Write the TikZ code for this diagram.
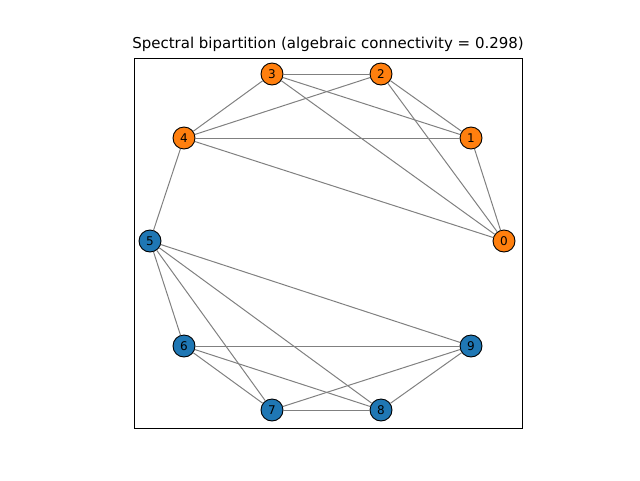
\documentclass[tikz,border=0pt]{standalone}
\usepackage{fontspec}
\setmainfont{DejaVu Sans}
\begin{document}
\begin{tikzpicture}[x=1pt,y=-1pt,
  nd/.style={circle,draw=black,line width=0.9pt,minimum size=22pt,inner sep=0pt,font=\fontsize{12}{12}\selectfont},
  org/.style={nd,fill={rgb,255:red,255;green,127;blue,14}},
  blu/.style={nd,fill={rgb,255:red,31;green,119;blue,180}},
  ed/.style={draw={rgb,255:red,128;green,128;blue,128},line width=1pt}]
\useasboundingbox (0,0) rectangle (640,480);
\draw[line width=0.8pt] (134,58) rectangle (522,428);
\node[font=\fontsize{15}{15}\selectfont] (t) at (328,44) {Spectral bipartition (algebraic connectivity = 0.298)};
\node[org] (n0) at (504,241) {0};
\node[org] (n1) at (471,138) {1};
\node[org] (n2) at (381,74) {2};
\node[org] (n3) at (272,74) {3};
\node[org] (n4) at (184,138) {4};
\node[blu] (n5) at (150,241) {5};
\node[blu] (n6) at (184,346) {6};
\node[blu] (n7) at (272,410) {7};
\node[blu] (n8) at (381,410) {8};
\node[blu] (n9) at (471,346) {9};
\begin{scope}[on background layer/.style={}]
\foreach \a/\b in {3/2,3/1,3/0,3/4,2/4,2/1,2/0,4/1,4/0,1/0,4/5,5/9,5/6,5/7,5/8,6/9,6/8,6/7,7/8,7/9,8/9}
  \draw[ed] (n\a) -- (n\b);
\end{scope}
\end{tikzpicture}
\end{document}
